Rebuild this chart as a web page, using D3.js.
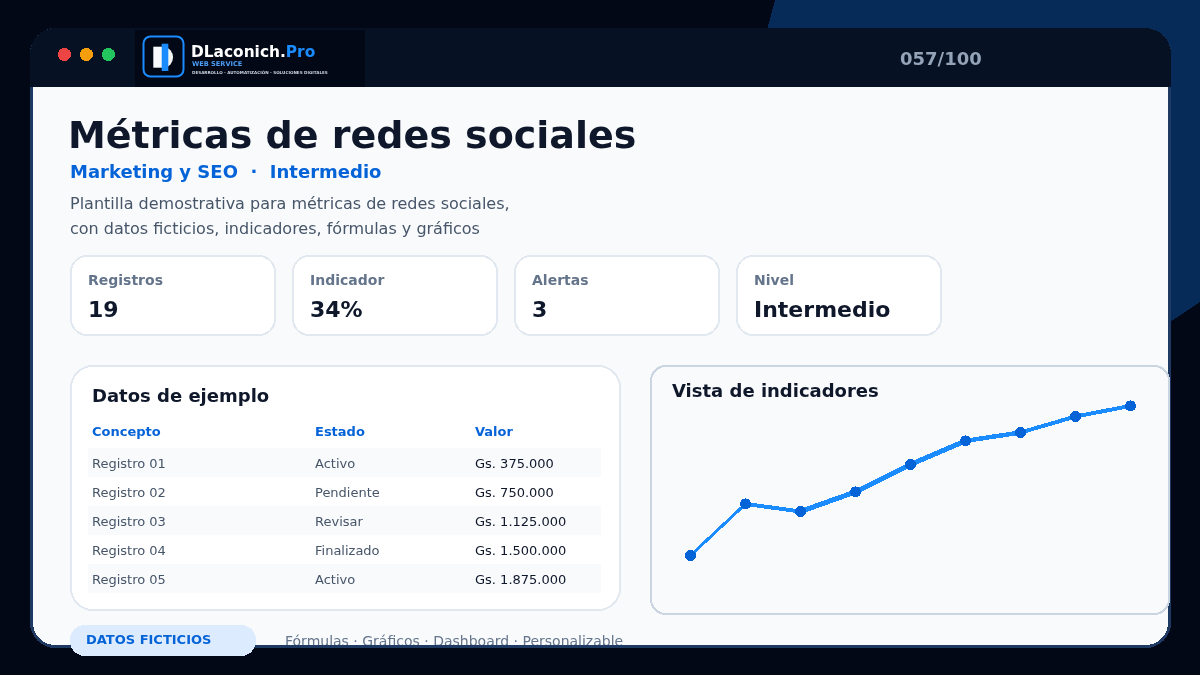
<!DOCTYPE html>
<html>
<head>
<meta charset="utf-8">
<script src="https://cdn.jsdelivr.net/npm/d3@7"></script>
<style>
html, body { margin: 0; padding: 0; background: #030816; overflow: hidden; }
svg { display: block; font-family: "DejaVu Sans", sans-serif; will-change: transform; shape-rendering: crispEdges; }
</style>
</head>
<body>
<div id="viz-container"></div>
<script>
// Chart data
const lineLabels = ['P1', 'P2', 'P3', 'P4', 'P5', 'P6', 'P7', 'P8', 'P9'];
const lineValues = [20, 45.8, 42, 51.8, 65.5, 77.3, 81.5, 89.5, 94.8];
const segmentWidths = [3, 4, 5, 5, 5, 4.5, 4, 4];

// Table data
const tableHeaders = ['Concepto', 'Estado', 'Valor'];
const tableConcepts = ['Registro 01', 'Registro 02', 'Registro 03', 'Registro 04', 'Registro 05'];
const tableStates = ['Activo', 'Pendiente', 'Revisar', 'Finalizado', 'Activo'];
const tableValues = ['Gs. 375.000', 'Gs. 750.000', 'Gs. 1.125.000', 'Gs. 1.500.000', 'Gs. 1.875.000'];

// KPI cards
const kpiLabels = ['Registros', 'Indicador', 'Alertas', 'Nivel'];
const kpiValues = ['19', '34%', '3', 'Intermedio'];

const svg = d3.select('#viz-container').append('svg')
    .attr('width', 1200)
    .attr('height', 675);

function addText(parent, x, y, str, size, color, weight = 'normal') {
    return parent.append('text')
        .attr('x', x)
        .attr('y', y)
        .attr('font-size', size)
        .attr('font-weight', weight)
        .attr('fill', color)
        .text(str);
}

function addRect(parent, x, y, w, h, r, fill, stroke = 'none', sw = 0) {
    return parent.append('rect')
        .attr('x', x).attr('y', y)
        .attr('width', w).attr('height', h)
        .attr('rx', r).attr('ry', r)
        .attr('fill', fill)
        .attr('stroke', stroke)
        .attr('stroke-width', sw);
}

// Background (the blue shape runs on under the window)
addRect(svg, 0, 0, 1200, 675, 0, '#030816');
svg.append('polygon')
    .attr('points', '775,0 1200,0 1200,302 1140,342 1140,100 760,56')
    .attr('fill', '#062b59');

// Window frame
const defs = svg.append('defs');
defs.append('clipPath').attr('id', 'frame-clip').append('rect')
    .attr('x', 33).attr('y', 28).attr('width', 1135).attr('height', 617)
    .attr('rx', 22).attr('ry', 22);

addRect(svg, 31.5, 29.5, 1138, 617, 24, '#f8fafc', '#1e3a63', 3);
const inner = svg.append('g').attr('clip-path', 'url(#frame-clip)');

// Title bar
const barPath = 'M30,87 V54 A26,26 0 0 1 56,28 H1145 A26,26 0 0 1 1171,54 V87 Z';
svg.append('path').attr('d', barPath).attr('fill', '#061224');
[['#ef4444', 64.5], ['#f59e0b', 86.5], ['#22c55e', 108.5]].forEach(d => {
    svg.append('circle').attr('cx', d[1]).attr('cy', 54.5).attr('r', 6.5).attr('fill', d[0]);
});
addText(svg, 900, 65, '057/100', 18, '#94a3b8', 'bold');

// Logo
addRect(svg, 135, 30, 230, 57, 0, '#030816');
const logo = svg.append('g')
    .style('filter', 'blur(0.3px)')
    .style('shape-rendering', 'auto');
addRect(logo, 143.5, 36.5, 40, 40, 7, 'none', '#1a8cff', 2);
addRect(logo, 153.3, 46.7, 8.7, 21, 0, '#f8fafc');
logo.append('path').attr('d', 'M162,46.7 H164 A10,10.7 0 0 1 164,68 H162 Z').attr('fill', '#f1f5f1');
addRect(logo, 161.7, 43.7, 6.6, 27.3, 0, '#1a8cff');
const logoName = addText(logo, 191, 56.5, 'DLaconich.', 15.4, '#ffffff', 'bold');
logoName.append('tspan').attr('fill', '#1a8cff').text('Pro');
addText(logo, 192, 66, 'WEB SERVICE', 6.6, '#4a9cf5', 'bold');
addText(logo, 192, 74, 'DESARROLLO - AUTOMATIZACIÓN - SOLUCIONES DIGITALES', 4.1, '#cbd5e1', 'bold');

// Heading
addText(svg, 68, 148, 'Métricas de redes sociales', 38, '#0f172a', 'bold');
addText(svg, 70, 178, 'Marketing y SEO  ·  Intermedio', 18, '#0563d8', 'bold').attr('xml:space', 'preserve');
addText(svg, 70, 209, 'Plantilla demostrativa para métricas de redes sociales,', 16, '#475569');
addText(svg, 70, 234, 'con datos ficticios, indicadores, fórmulas y gráficos', 16, '#475569');

// KPI cards
kpiLabels.forEach((label, i) => {
    const x = 71 + i * 222;
    addRect(svg, x, 256, 204, 79, 16, '#ffffff', '#e2e8f0', 2);
    addText(svg, x + 17, 285, label, 14, '#64748b', 'bold');
    addText(svg, x + 17, 317, kpiValues[i], 22, '#0f172a', 'bold');
});

// Table card
addRect(svg, 71, 366, 549, 244, 22, '#ffffff', '#e2e8f0', 2);
addText(svg, 92, 402, 'Datos de ejemplo', 18, '#0f172a', 'bold');

const colX = d3.scaleOrdinal().domain(tableHeaders).range([92, 315, 475]);
tableHeaders.forEach(h => {
    addText(svg, colX(h), 436, h, 13, '#0563d8', 'bold');
});

const rowY = d3.scaleBand().domain(tableConcepts).range([448, 593]);
tableConcepts.forEach((c, i) => {
    const y = rowY(c);
    if (i % 2 === 0) addRect(svg, 88, y, 513, rowY.bandwidth(), 0, '#f8fafc');
    addText(svg, colX('Concepto'), y + 20, c, 13, '#475569');
    addText(svg, colX('Estado'), y + 20, tableStates[i], 13, '#475569');
    addText(svg, colX('Valor'), y + 20, tableValues[i], 13, '#0f172a');
});

// Chart card
addRect(svg, 651, 366, 518, 248, 15, '#f8fafc', '#cbd5e1', 2);
addText(svg, 672, 397, 'Vista de indicadores', 18, '#0f172a', 'bold');

const xScale = d3.scalePoint().domain(lineLabels).range([690.5, 1130.5]);
const yScale = d3.scaleLinear().domain([0, 100]).range([595.5, 395.5]);

const lineGroup = svg.append('g');
lineValues.slice(1).forEach((v, i) => {
    lineGroup.append('path')
        .attr('d', d3.line()([
            [xScale(lineLabels[i]), yScale(lineValues[i])],
            [xScale(lineLabels[i + 1]), yScale(v)]
        ]))
        .attr('fill', 'none')
        .attr('stroke', '#1a8cff')
        .attr('stroke-width', segmentWidths[i]);
});
svg.append('g').selectAll('circle')
    .data(lineValues)
    .enter()
    .append('circle')
    .attr('cx', (d, i) => xScale(lineLabels[i]))
    .attr('cy', d => yScale(d))
    .attr('r', 5.5)
    .attr('fill', '#0563d8');

// Footer
addText(inner, 285, 646, 'Fórmulas · Gráficos · Dashboard · Personalizable', 14, '#64748b');
addRect(svg, 70, 625, 186, 31, 15, '#dcecfe');
addText(svg, 86, 644, 'DATOS FICTICIOS', 13, '#0563d8', 'bold');
</script>
</body>
</html>
